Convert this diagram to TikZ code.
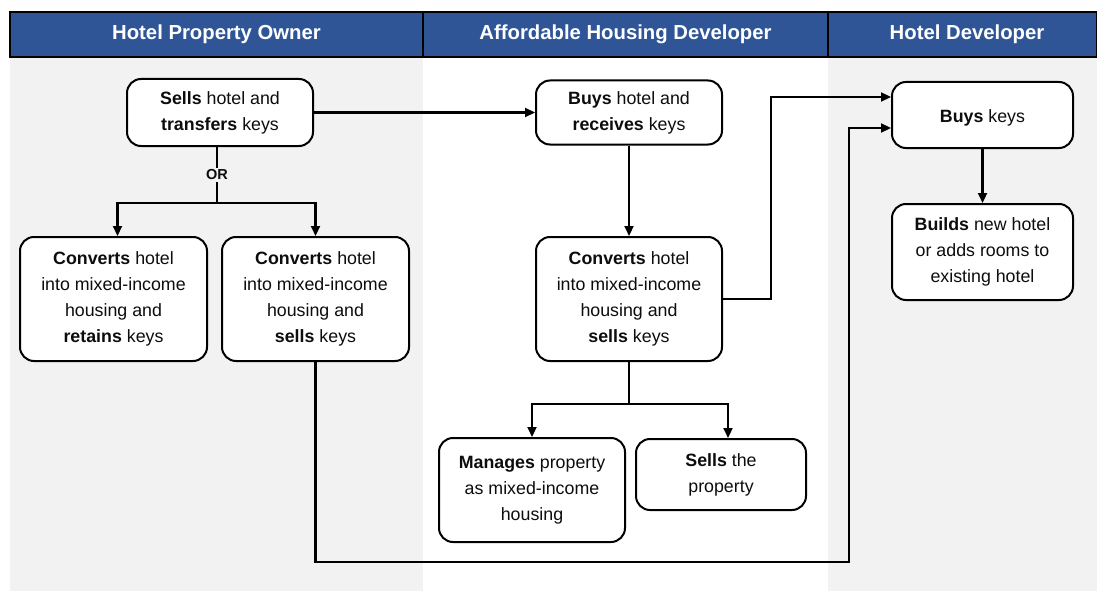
\documentclass[tikz,border=0pt]{standalone}
\usepackage{fontspec}
\setmainfont{Liberation Sans}
\usetikzlibrary{arrows.meta,calc}
\definecolor{hdrblue}{HTML}{2F5597}
\definecolor{panelgray}{HTML}{F2F2F2}
\definecolor{ink}{HTML}{0D0D0D}
\begin{document}
\begin{tikzpicture}[x=1pt,y=-1pt,
  box/.style={draw=black, line width=2pt, fill=white, rounded corners=14pt,
    align=center, inner sep=0pt, text=ink,
    font=\fontsize{17.8}{26}\selectfont,
    execute at begin node={\rule{0pt}{19pt}}},
  flow/.style={draw=black, line width=2.2pt, -{Triangle[length=10pt,width=9pt]}},
  link/.style={draw=black, line width=2.2pt},
  hdr/.style={text=white, inner sep=0pt, font=\bfseries\fontsize{20.3}{24}\selectfont},
  orlabel/.style={text=ink, inner sep=2pt, font=\bfseries\fontsize{14.5}{16}\selectfont}
]
% canvas and lane backgrounds
\useasboundingbox (0,0) rectangle (1097,591);
\fill[white] (0,0) rectangle (1097,591);
\fill[panelgray] (10,57) rectangle (423,591);
\fill[panelgray] (828,57) rectangle (1097,591);

% lane header band
\fill[hdrblue] (10,12) rectangle (1097,57);
\draw[line width=1.5pt] (10,12) rectangle (1097,57);
\draw[line width=1.5pt] (423,12) -- (423,57);
\draw[line width=1.5pt] (828,12) -- (828,57);
\node[hdr] (h1) at (216.5,34) {Hotel Property Owner};
\node[hdr] (h2) at (625.5,34) {Affordable Housing Developer};
\node[hdr] (h3) at (967,34) {Hotel Developer};

% hotel property owner
\node[box, minimum width=186pt, minimum height=67pt] (sell) at (220,112.5)
  {\textbf{Sells} hotel and\\\textbf{transfers} keys};
\node[box, minimum width=187pt, minimum height=124pt] (retain) at (113.5,299)
  {\textbf{Converts} hotel\\into mixed-income\\housing and\\\textbf{retains} keys};
\node[box, minimum width=187pt, minimum height=124pt] (convsell) at (315.5,299)
  {\textbf{Converts} hotel\\into mixed-income\\housing and\\\textbf{sells} keys};

% affordable housing developer
\node[box, minimum width=186pt, minimum height=64pt] (buyhotel) at (629,112.5)
  {\textbf{Buys} hotel and\\\textbf{receives} keys};
\node[box, minimum width=186pt, minimum height=124pt] (ahconv) at (629,299)
  {\textbf{Converts} hotel\\into mixed-income\\housing and\\\textbf{sells} keys};
\node[box, minimum width=186pt, minimum height=104pt] (manage) at (532,490)
  {\textbf{Manages} property\\as mixed-income\\housing};
\node[box, minimum width=170pt, minimum height=71pt] (sellprop) at (721,474.5)
  {\textbf{Sells} the\\property};

% hotel developer
\node[box, minimum width=181pt, minimum height=66pt] (keys) at (982.5,115)
  {\textbf{Buys} keys};
\node[box, minimum width=181pt, minimum height=96pt] (build) at (982.5,252)
  {\textbf{Builds} new hotel\\or adds rooms to\\existing hotel};

% connectors
\draw[flow] (sell.east) -- (buyhotel.west);

\node[orlabel] (or) at (217,175) {OR};
\coordinate (split) at (217,203);
\draw[link] (sell.south -| or) -- (or.north);
\draw[link] (or.south) -- (split);
\draw[flow] (split) -| ([xshift=4pt]retain.north);
\draw[flow] (split) -| (convsell.north);

\draw[flow] (buyhotel.south) -- (ahconv.north);

\coordinate (k1) at ($(keys.west)+(0,-18)$);
\coordinate (k2) at ($(keys.west)+(0,13)$);
\draw[flow] (ahconv.east) -- ++(48,0) |- (k1);

\coordinate (low) at (849,562);
\draw[flow] (convsell.south) |- (low) |- (k2);

\draw[flow] (keys.south) -- (build.north);

\coordinate (split2) at (629,404);
\draw[link] (ahconv.south) -- (split2);
\draw[flow] (split2) -| (manage.north);
\draw[flow] (split2) -| ([xshift=7pt]sellprop.north);
\end{tikzpicture}
\end{document}
